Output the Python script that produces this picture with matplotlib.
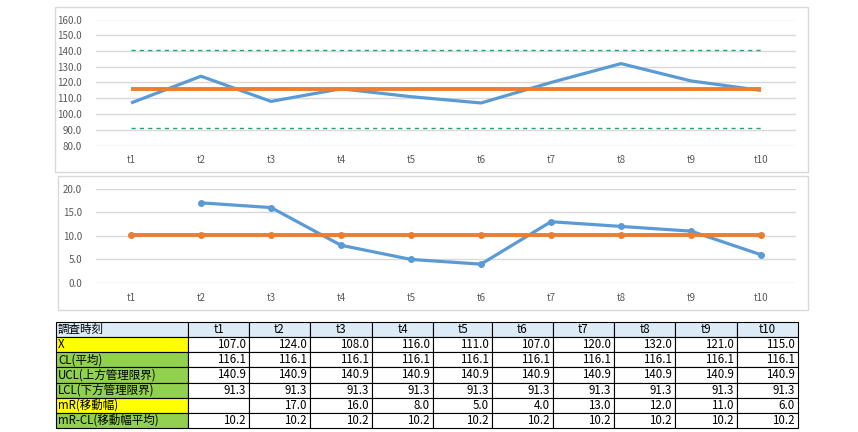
import matplotlib
matplotlib.use('Agg')
import matplotlib.pyplot as plt
from matplotlib.patches import Rectangle
import numpy as np

plt.rcParams['font.family'] = ['Noto Sans CJK JP', 'DejaVu Sans']

# data
times = ['t1', 't2', 't3', 't4', 't5', 't6', 't7', 't8', 't9', 't10']
x_vals = [107.0, 124.0, 108.0, 116.0, 111.0, 107.0, 120.0, 132.0, 121.0, 115.0]
cl_vals = [116.1, 116.1, 116.1, 116.1, 116.1, 116.1, 116.1, 116.1, 116.1, 116.1]
ucl_vals = [140.9, 140.9, 140.9, 140.9, 140.9, 140.9, 140.9, 140.9, 140.9, 140.9]
lcl_vals = [91.3, 91.3, 91.3, 91.3, 91.3, 91.3, 91.3, 91.3, 91.3, 91.3]
mr_vals = [None, 17.0, 16.0, 8.0, 5.0, 4.0, 13.0, 12.0, 11.0, 6.0]
mr_cl_vals = [10.2, 10.2, 10.2, 10.2, 10.2, 10.2, 10.2, 10.2, 10.2, 10.2]

row_labels = ['X', 'CL(平均)', 'UCL(上方管理限界)', 'LCL(下方管理限界)', 'mR(移動幅)', 'mR-CL(移動幅平均)']
row_colors = ['#FFFF00', '#92D050', '#92D050', '#92D050', '#FFFF00', '#92D050']
header_label = '調査時刻'

BLUE = '#5B9BD5'
ORANGE = '#ED7D31'
TEAL = '#23A07E'
GRID = '#D9D9D9'
TICK = '#595959'

W, H = 858, 432
fig = plt.figure(figsize=(W / 100, H / 100), dpi=100)

# background axes in pixel coords for frames and table
bg = fig.add_axes([0, 0, 1, 1])
bg.set_xlim(0, W)
bg.set_ylim(H, 0)
bg.axis('off')

# chart frames
bg.add_patch(Rectangle((55, 7), 753, 165, fill=False, ec=GRID, lw=1))
bg.add_patch(Rectangle((58, 176), 750, 134, fill=False, ec=GRID, lw=1))


def px_axes(left, right, top, bottom):
    return fig.add_axes([left / W, 1 - bottom / H, (right - left) / W, (bottom - top) / H])


def style(ax, ymin, ymax, step):
    ax.set_xlim(-0.5, len(times) - 0.5)
    ax.set_ylim(ymin, ymax)
    ax.set_yticks(np.arange(ymin, ymax + step / 2, step))
    ax.yaxis.set_major_formatter(matplotlib.ticker.FormatStrFormatter('%.1f'))
    ax.set_xticks(range(len(times)))
    ax.set_xticklabels(times)
    ax.grid(axis='y', color=GRID, lw=1)
    ax.set_axisbelow(True)
    for s in ax.spines.values():
        s.set_visible(False)
    ax.tick_params(length=0, labelsize=7, colors=TICK)
    ax.tick_params(axis='y', pad=10)
    ax.tick_params(axis='x', pad=7)
    ax.patch.set_alpha(0)


xs = np.arange(len(times))

# X chart
ax1 = px_axes(96, 796, 19.5, 145.5)
style(ax1, 80, 160, 10)
ax1.plot(xs, ucl_vals, color=TEAL, lw=1, ls=(0, (3, 3)))
ax1.plot(xs, lcl_vals, color=TEAL, lw=1, ls=(0, (3, 3)))
ax1.plot(xs, x_vals, color=BLUE, lw=2.3, solid_capstyle='butt')
ax1.plot(xs, cl_vals, color=ORANGE, lw=2.8, solid_capstyle='butt')

# mR chart
mr_arr = np.array([np.nan if v is None else v for v in mr_vals])
ax2 = px_axes(96, 796, 188.7, 283)
style(ax2, 0, 20, 5)
ax2.plot(xs, mr_arr, color=BLUE, lw=2.3, marker='o', ms=4)
ax2.plot(xs, mr_cl_vals, color=ORANGE, lw=2.8, marker='o', ms=4)

# table
col_edges = [56, 188, 249, 310, 372, 433, 492, 553, 614, 675, 737, 798]
top, bottom = 322, 428
n_rows = len(row_labels) + 1
rh = (bottom - top) / n_rows
table_rows = [x_vals, cl_vals, ucl_vals, lcl_vals, mr_vals, mr_cl_vals]
fs = 8.3

for r in range(n_rows):
    y0 = top + r * rh
    for c in range(len(col_edges) - 1):
        x0, x1 = col_edges[c], col_edges[c + 1]
        if r == 0:
            fc = '#DDEBF7'
        elif c == 0:
            fc = row_colors[r - 1]
        else:
            fc = 'white'
        bg.add_patch(Rectangle((x0, y0), x1 - x0, rh, fc=fc, ec='black', lw=0.8))
        ym = y0 + rh / 2
        if r == 0:
            if c == 0:
                bg.text(x0 + 2, ym, header_label, ha='left', va='center', fontsize=fs)
            else:
                bg.text((x0 + x1) / 2, ym, times[c - 1], ha='center', va='center', fontsize=fs)
        else:
            if c == 0:
                bg.text(x0 + 2, ym, row_labels[r - 1], ha='left', va='center', fontsize=fs)
            else:
                v = table_rows[r - 1][c - 1]
                if v is not None:
                    bg.text(x1 - 3, ym, f'{v:.1f}', ha='right', va='center', fontsize=fs)

fig.savefig('out.png', dpi=100)
